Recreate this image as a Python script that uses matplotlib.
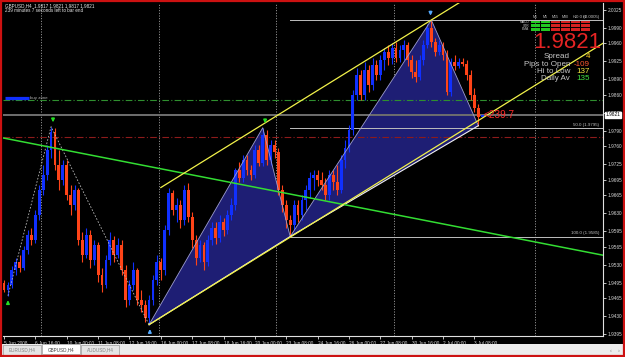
import matplotlib

matplotlib.use("Agg")
import matplotlib.pyplot as plt  # noqa: E402
import matplotlib.transforms as mtransforms  # noqa: E402
import numpy as np  # noqa: E402
from matplotlib.patches import Rectangle  # noqa: E402

plt.rcParams["font.family"] = ["Liberation Sans", "DejaVu Sans"]

# GBPUSD H4 candles, bar 0 = 5 Jun 2008
opens = [1.9495, 1.9481, 1.9491, 1.9520, 1.9536, 1.9524, 1.9559, 1.9588, 1.9578, 1.9627,
         1.9675, 1.9705, 1.9753, 1.9788, 1.9724, 1.9695, 1.9724, 1.9666, 1.9646, 1.9675,
         1.9578, 1.9549, 1.9588, 1.9540, 1.9569, 1.9510, 1.9491, 1.9540, 1.9578, 1.9549,
         1.9569, 1.9520, 1.9462, 1.9491, 1.9520, 1.9462, 1.9452, 1.9427, 1.9462, 1.9501,
         1.9536, 1.9520, 1.9598, 1.9670, 1.9637, 1.9646, 1.9617, 1.9675, 1.9623, 1.9578,
         1.9543, 1.9569, 1.9536, 1.9578, 1.9602, 1.9582, 1.9613, 1.9598, 1.9627, 1.9646,
         1.9714, 1.9699, 1.9734, 1.9714, 1.9705, 1.9753, 1.9728, 1.9782, 1.9734, 1.9763,
         1.9749, 1.9675, 1.9646, 1.9617, 1.9608, 1.9646, 1.9627, 1.9656, 1.9675, 1.9699,
         1.9705, 1.9695, 1.9685, 1.9666, 1.9705, 1.9691, 1.9675, 1.9734, 1.9757, 1.9792,
         1.9860, 1.9899, 1.9860, 1.9908, 1.9879, 1.9918, 1.9899, 1.9928, 1.9943, 1.9932,
         1.9951, 1.9932, 1.9947, 1.9957, 1.9928, 1.9904, 1.9895, 1.9928, 1.9957, 1.9990,
         1.9963, 1.9943, 1.9957, 1.9937, 1.9866, 1.9924, 1.9916, 1.9924, 1.9920, 1.9899,
         1.9860, 1.9834, 1.9817]
highs = [1.9501, 1.9497, 1.9528, 1.9543, 1.9549, 1.9567, 1.9598, 1.9602, 1.9637, 1.9685,
         1.9724, 1.9763, 1.9798, 1.9796, 1.9753, 1.9734, 1.9734, 1.9685, 1.9685, 1.9679,
         1.9594, 1.9602, 1.9598, 1.9578, 1.9575, 1.9524, 1.9549, 1.9594, 1.9586, 1.9582,
         1.9578, 1.9530, 1.9501, 1.9536, 1.9524, 1.9481, 1.9462, 1.9472, 1.9510, 1.9549,
         1.9543, 1.9608, 1.9679, 1.9675, 1.9660, 1.9656, 1.9685, 1.9689, 1.9633, 1.9588,
         1.9578, 1.9575, 1.9588, 1.9613, 1.9613, 1.9627, 1.9621, 1.9637, 1.9660, 1.9718,
         1.9730, 1.9743, 1.9743, 1.9724, 1.9763, 1.9763, 1.9796, 1.9792, 1.9772, 1.9772,
         1.9757, 1.9685, 1.9656, 1.9627, 1.9656, 1.9656, 1.9666, 1.9685, 1.9710, 1.9714,
         1.9714, 1.9710, 1.9699, 1.9714, 1.9714, 1.9724, 1.9743, 1.9772, 1.9801, 1.9869,
         1.9912, 1.9908, 1.9924, 1.9918, 1.9932, 1.9928, 1.9937, 1.9951, 1.9957, 1.9961,
         1.9963, 1.9957, 1.9966, 1.9963, 1.9937, 1.9928, 1.9937, 1.9966, 1.9997, 2.0005,
         1.9970, 1.9966, 1.9963, 1.9947, 1.9932, 1.9937, 1.9932, 1.9932, 1.9928, 1.9908,
         1.9873, 1.9842, 1.9821]
lows = [1.9478, 1.9470, 1.9485, 1.9510, 1.9516, 1.9520, 1.9551, 1.9569, 1.9573, 1.9617,
        1.9666, 1.9695, 1.9737, 1.9714, 1.9675, 1.9685, 1.9656, 1.9627, 1.9637, 1.9569,
        1.9536, 1.9543, 1.9524, 1.9530, 1.9497, 1.9478, 1.9485, 1.9530, 1.9536, 1.9543,
        1.9510, 1.9448, 1.9452, 1.9481, 1.9452, 1.9439, 1.9419, 1.9414, 1.9452, 1.9491,
        1.9501, 1.9510, 1.9588, 1.9627, 1.9613, 1.9602, 1.9608, 1.9613, 1.9563, 1.9530,
        1.9536, 1.9520, 1.9528, 1.9569, 1.9571, 1.9575, 1.9586, 1.9590, 1.9617, 1.9637,
        1.9691, 1.9691, 1.9705, 1.9695, 1.9699, 1.9722, 1.9722, 1.9724, 1.9724, 1.9737,
        1.9666, 1.9633, 1.9602, 1.9585, 1.9598, 1.9613, 1.9617, 1.9637, 1.9660, 1.9675,
        1.9683, 1.9675, 1.9656, 1.9656, 1.9675, 1.9666, 1.9670, 1.9718, 1.9749, 1.9782,
        1.9850, 1.9850, 1.9850, 1.9866, 1.9869, 1.9889, 1.9889, 1.9908, 1.9918, 1.9920,
        1.9924, 1.9924, 1.9928, 1.9916, 1.9893, 1.9885, 1.9889, 1.9918, 1.9951, 1.9953,
        1.9935, 1.9937, 1.9928, 1.9860, 1.9858, 1.9908, 1.9912, 1.9916, 1.9889, 1.9850,
        1.9827, 1.9800, 1.9817]
closes = [1.9481, 1.9491, 1.9520, 1.9536, 1.9524, 1.9559, 1.9588, 1.9578, 1.9627, 1.9675,
          1.9705, 1.9753, 1.9788, 1.9724, 1.9695, 1.9724, 1.9666, 1.9646, 1.9675, 1.9578,
          1.9549, 1.9588, 1.9540, 1.9569, 1.9510, 1.9491, 1.9540, 1.9578, 1.9549, 1.9569,
          1.9520, 1.9462, 1.9491, 1.9520, 1.9462, 1.9452, 1.9427, 1.9462, 1.9501, 1.9536,
          1.9520, 1.9598, 1.9670, 1.9637, 1.9646, 1.9617, 1.9675, 1.9623, 1.9578, 1.9543,
          1.9569, 1.9536, 1.9578, 1.9602, 1.9582, 1.9613, 1.9598, 1.9627, 1.9646, 1.9714,
          1.9699, 1.9734, 1.9714, 1.9705, 1.9753, 1.9728, 1.9782, 1.9734, 1.9763, 1.9749,
          1.9675, 1.9646, 1.9617, 1.9608, 1.9646, 1.9627, 1.9656, 1.9675, 1.9699, 1.9705,
          1.9695, 1.9685, 1.9666, 1.9705, 1.9691, 1.9675, 1.9734, 1.9757, 1.9792, 1.9860,
          1.9899, 1.9860, 1.9908, 1.9879, 1.9918, 1.9899, 1.9928, 1.9943, 1.9932, 1.9951,
          1.9932, 1.9947, 1.9957, 1.9928, 1.9904, 1.9895, 1.9928, 1.9957, 1.9990, 1.9963,
          1.9943, 1.9957, 1.9937, 1.9866, 1.9924, 1.9916, 1.9924, 1.9920, 1.9899, 1.9860,
          1.9834, 1.9817, 1.9821]

time_ticks = [0, 8, 16, 24, 32, 40, 48, 56, 64, 72, 80, 88, 96, 104, 112, 120]
time_labels = ["5 Jun 2008", "6 Jun 16:00", "10 Jun 00:00", "11 Jun 08:00", "12 Jun 16:00",
               "16 Jun 00:00", "17 Jun 08:00", "18 Jun 16:00", "20 Jun 00:00", "23 Jun 08:00",
               "24 Jun 16:00", "26 Jun 00:00", "27 Jun 08:00", "30 Jun 16:00", "2 Jul 00:00",
               "3 Jul 08:00"]
price_ticks = [2.0025, 1.9990, 1.9960, 1.9925, 1.9890, 1.9860, 1.9825, 1.9790, 1.9760, 1.9725,
               1.9695, 1.9665, 1.9630, 1.9595, 1.9565, 1.9530, 1.9495, 1.9465, 1.9430, 1.9395]
separators = [9.5, 39.5, 69.5, 99.5, 135.5]

# zigzag + XABCD pattern points (bar, price)
zz_bars = [1, 12, 37]
zz_prices = [1.9470, 1.9798, 1.9414]
pat_bars = [37, 66, 73, 109, 121]
pat_prices = [1.9414, 1.9796, 1.9585, 2.0005, 1.9800]

# trendlines
green_bars, green_prices = [12, 121], [1.9758, 1.9596]
upper_bars, upper_prices = [40, 109], [1.9680, 2.0005]
lower_bars, lower_prices = [37, 121], [1.9414, 1.9810]

# horizontal levels
bid = 1.9821
green_level = 1.9850
red_level = 1.9778
buy_zone = 1.9854
fib_levels = [2.0005, 1.9795, 1.9585]
fib_labels = ["0.0 (2.0005)", "50.0 (1.9795)", "100.0 (1.9585)"]

# fractal arrows (bar, price, direction, colour)
arrows = [(1, 1.9470, "up", "#22dd22"), (12.5, 1.9798, "down", "#22dd22"),
          (66.6, 1.9796, "down", "#22dd22"), (37.2, 1.9414, "up", "#55aaff"),
          (108.8, 2.0005, "down", "#55aaff")]

UP, DOWN = "#1030ff", "#ff4418"
GRID = "#bdbdbd"

fig = plt.figure(figsize=(6.25, 3.57), dpi=100, facecolor="black")
ax = fig.add_axes([3 / 625, 1 - 336 / 357, 600 / 625, 333 / 357], facecolor="black")
ax.set_xlim(-0.26, 152.8)
ax.set_ylim(1.9392, 2.0038)

# weekly separators
for s in separators:
    ax.axvline(s, color=GRID, lw=0.6, ls=(0, (1.2, 2)), zorder=1)

# pattern fill
xa, pa = pat_bars, pat_prices
ax.fill([xa[0], xa[1], xa[2]], [pa[0], pa[1], pa[2]], color="#1e1e74", lw=0, zorder=1)
ax.fill([xa[2], xa[3], xa[4]], [pa[2], pa[3], pa[4]], color="#1e1e74", lw=0, zorder=1)
ax.plot(xa, pa, color="#9d9dcf", lw=0.6, zorder=4)
ax.plot([xa[0], xa[2], xa[4]], [pa[0], pa[2], pa[4]], color="#f0f0f0", lw=0.8, zorder=4)

# horizontal levels
ax.axhline(bid, color="#6e6e6e", lw=1.4, zorder=2)
ax.axhline(green_level, color="#2f8f2f", lw=0.8, ls=(0, (6, 2, 1, 2)), zorder=2)
ax.axhline(red_level, color="#8e1b1b", lw=0.8, ls=(0, (6, 2, 1, 2)), zorder=2)
ax.plot([0.2, 6.4], [buy_zone, buy_zone], color="#1030ff", lw=2.3, solid_capstyle="butt", zorder=4)
ax.text(6.6, buy_zone, "buy zone", color="#b0b0b0", fontsize=3.2, va="center", zorder=4)
for lvl, lab in zip(fib_levels, fib_labels):
    ax.plot([pat_bars[2], 152.8], [lvl, lvl], color="#bfbfbf", lw=0.7, zorder=2)
    ax.text(151.8, lvl + 0.0002, lab, color="#bfbfbf", fontsize=3.2, ha="right", va="bottom",
            zorder=2)

# candles
idx = np.arange(len(opens))
o, h, l, c = map(np.array, (opens, highs, lows, closes))
col = np.where(c >= o, UP, DOWN)
ax.vlines(idx, l, h, colors=col, lw=0.8, zorder=3)
ax.bar(idx, np.maximum(np.abs(c - o), 0.00012), bottom=np.minimum(o, c), width=0.72,
       color=col, lw=0, zorder=3)

# zigzag
ax.plot(zz_bars, zz_prices, color="#b8b8b8", lw=0.6, ls=(0, (2, 2)), zorder=4)

# trendlines
ax.axline((green_bars[0], green_prices[0]), (green_bars[1], green_prices[1]),
          color="#33dd33", lw=1.1, zorder=4)
for bars, prices in ((upper_bars, upper_prices), (lower_bars, lower_prices)):
    slope = (prices[1] - prices[0]) / (bars[1] - bars[0])
    ax.plot([bars[0], 153], [prices[0], prices[0] + slope * (153 - bars[0])],
            color="#f2f24a", lw=0.9, zorder=4)

# fractal arrows
for b, p, d, colr in arrows:
    off = 7 if d == "down" else -7
    tip = p + (0.0003 if d == "down" else -0.0003)
    ax.annotate("", xy=(b, tip), xytext=(0, off), textcoords="offset points",
                arrowprops=dict(arrowstyle="-|>", color=colr, lw=1.1, mutation_scale=4.5),
                zorder=5)

ax.text(122.4, closes[-1] - 0.0001, "<239.7", color="#ff2a2a", fontsize=7.2, va="center",
        zorder=5)

# axes styling
for side in ("top", "left"):
    ax.spines[side].set_visible(False)
for side in ("bottom", "right"):
    ax.spines[side].set_color("#e0e0e0")
    ax.spines[side].set_linewidth(0.8)
ax.yaxis.tick_right()
ax.set_yticks(price_ticks)
ax.set_yticklabels([f"{v:.4f}" for v in price_ticks])
ax.set_xticks(time_ticks)
ax.set_xticklabels(time_labels)
ax.tick_params(axis="both", colors="#e0e0e0", labelcolor="#d8d8d8", labelsize=3.4,
               length=2.2, width=0.6, pad=1.2)
for lbl in ax.get_xticklabels():
    lbl.set_ha("left")

trans = mtransforms.blended_transform_factory(ax.transAxes, ax.transData)
ax.text(1.004, bid, "1.9821", transform=trans, fontsize=3.4, color="black", va="center",
        ha="left", clip_on=False, zorder=6,
        bbox=dict(facecolor="white", edgecolor="white", pad=0.6))

# pixel overlay for terminal furniture
px = fig.add_axes([0, 0, 1, 1], zorder=10)
px.set_xlim(0, 625)
px.set_ylim(357, 0)
px.axis("off")
px.patch.set_alpha(0)

px.text(5, 5.5, "GBPUSD,H4  1.9817 1.9821 1.9817 1.9821", color="#e8e8e8", fontsize=3.3,
        va="center")
px.text(5, 11, "239 minutes 7 seconds left to bar end", color="#e8e8e8", fontsize=3.3,
        va="center")

# signal panel
tfs = ["M1", "M5", "M15", "M30", "H1", "H4"]
rows = ["MACD", "STR", "EMA"]
for j, tf in enumerate(tfs):
    px.text(535 + j * 10, 16.5, tf, color="#c0c0c0", fontsize=2.6, ha="center", va="center")
    for r in range(3):
        px.add_patch(Rectangle((530.5 + j * 10, 20.5 + r * 3.7), 9, 2.9, lw=0,
                               color="#22c822" if j < 2 else "#d42020"))
for r, name in enumerate(rows):
    px.text(529, 22 + r * 3.7, name, color="#c0c0c0", fontsize=2.4, ha="right", va="center")

px.text(567, 43, "1.9821", color="#e52424", fontsize=16, ha="center", va="center")
info = [("Spread", "4", "#ffcc22"), ("Pips to Open", "-109", "#ff5a30"),
        ("Hi to Low", "137", "#f4e640"), ("Daily Av", "135", "#44e044")]
for k, (lab, val, vc) in enumerate(info):
    y = 57 + k * 7.2
    px.text(570, y, lab, color="#c8c8c8", fontsize=5.8, ha="right", va="center")
    px.text(590, y, val, color=vc, fontsize=5.8, ha="right", va="center")

# tab strip
px.add_patch(Rectangle((2, 344), 621, 12, color="#ececec", lw=0))
for k, tab in enumerate(["EURUSD,H4", "GBPUSD,H4", "AUDUSD,H4"]):
    x0 = 3 + k * 39
    px.add_patch(Rectangle((x0, 345 if k != 1 else 344), 38, 10, facecolor="white" if k == 1
                           else "#e4e4e4", edgecolor="#9a9a9a", lw=0.5))
    px.text(x0 + 19, 350, tab, color="#404040" if k == 1 else "#808080", fontsize=3.3,
            ha="center", va="center")
px.text(611, 350, "\u2039", color="#808080", fontsize=4, ha="center", va="center")
px.text(619, 350, "\u203a", color="#808080", fontsize=4, ha="center", va="center")

# red window frame
px.add_patch(Rectangle((1, 1), 623, 355, fill=False, edgecolor="#cc1111", lw=1.6))

fig.savefig("out.png", dpi=100, facecolor="black")
